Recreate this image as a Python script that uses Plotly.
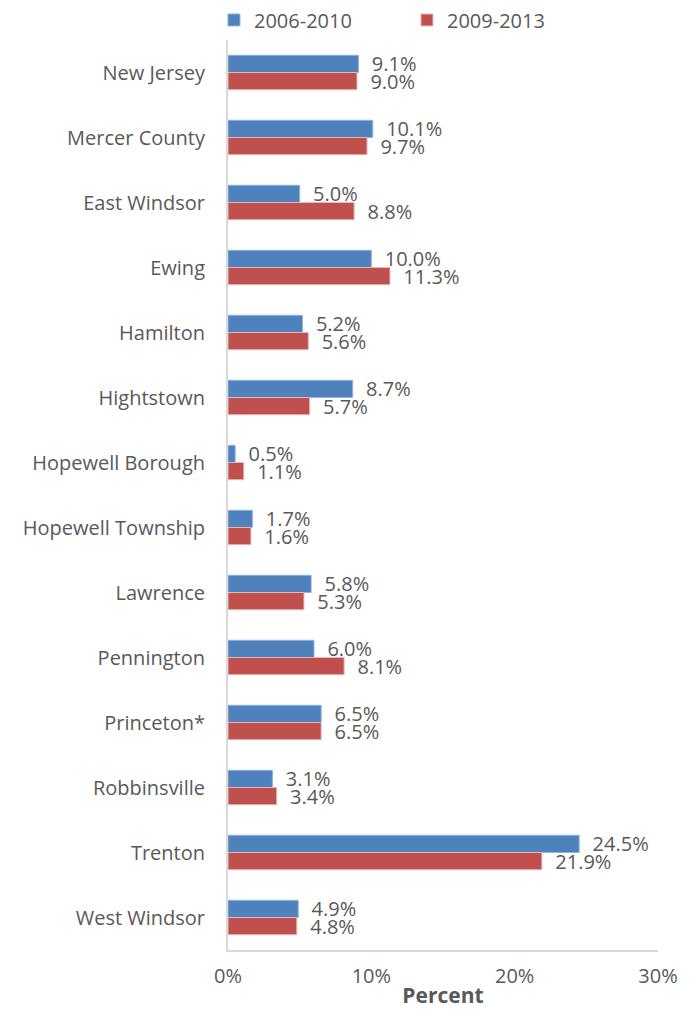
import plotly.graph_objects as go

categories = ["New Jersey", "Mercer County", "East Windsor", "Ewing", "Hamilton",
              "Hightstown", "Hopewell Borough", "Hopewell Township", "Lawrence",
              "Pennington", "Princeton*", "Robbinsville", "Trenton", "West Windsor"]
s2006_2010 = [9.1, 10.1, 5.0, 10.0, 5.2, 8.7, 0.5, 1.7, 5.8, 6.0, 6.5, 3.1, 24.5, 4.9]
s2009_2013 = [9.0, 9.7, 8.8, 11.3, 5.6, 5.7, 1.1, 1.6, 5.3, 8.1, 6.5, 3.4, 21.9, 4.8]
series_names = ["2006-2010", "2009-2013"]
x_ticks = [0, 10, 20, 30]
x_ticklabels = ["0%", "10%", "20%", "30%"]

FONT = "Open Sans, Liberation Sans, sans-serif"
GREY = "#595959"
FS = 20

fig = go.Figure()
fig.add_trace(go.Bar(
    y=categories, x=s2006_2010, orientation="h", name=series_names[0],
    marker=dict(color="#4F81BD", line=dict(color="#8EB4E3", width=1)),
    text=[f"{v:.1f}%" for v in s2006_2010], texttemplate="  %{text}",
    textposition="outside", cliponaxis=False, constraintext="none",
    textfont=dict(family=FONT, size=FS, color=GREY),
))
fig.add_trace(go.Bar(
    y=categories, x=s2009_2013, orientation="h", name=series_names[1],
    marker=dict(color="#C0504D", line=dict(color="#E6B9B8", width=1)),
    text=[f"{v:.1f}%" for v in s2009_2013], texttemplate="  %{text}",
    textposition="outside", cliponaxis=False, constraintext="none",
    textfont=dict(family=FONT, size=FS, color=GREY),
))

fig.update_layout(
    width=687, height=1003,
    margin=dict(l=220, r=37, t=32, b=61, autoexpand=False),
    barmode="group", bargap=0.47, bargroupgap=0,
    plot_bgcolor="white", paper_bgcolor="white",
    font=dict(family=FONT, size=FS, color=GREY),
    showlegend=True,
    legend=dict(orientation="h", x=-0.0326, xanchor="left", y=1.022, yanchor="middle",
                traceorder="normal", font=dict(size=FS, color=GREY),
                itemwidth=30, entrywidth=148, borderwidth=0),
)
fig.update_xaxes(
    range=[0, 30], tickvals=x_ticks, ticktext=x_ticklabels, automargin=False,
    showgrid=False, zeroline=False, showline=True, linecolor="#D9D9D9", linewidth=2,
    ticks="", ticklabelstandoff=7, tickfont=dict(size=FS, color=GREY),
    title=dict(text="<b>Percent</b>", font=dict(size=21, color=GREY), standoff=0),
)
fig.update_yaxes(
    autorange="reversed", showgrid=False, zeroline=False, automargin=False,
    showline=True, linecolor="#D9D9D9", linewidth=2,
    ticks="", ticklabelstandoff=17, tickfont=dict(size=FS, color=GREY),
)

fig.write_html("out.html")
